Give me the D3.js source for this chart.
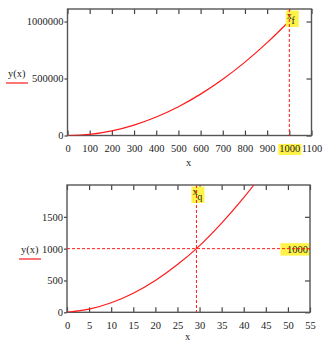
<!DOCTYPE html>
<html>
<head>
<meta charset="utf-8">
<script src="https://cdn.jsdelivr.net/npm/d3@7"></script>
<style>
  body { margin: 0; background: #fff; }
  svg text { font-family: "Liberation Serif", "Times New Roman", serif; font-size: 10.5px; fill: #222; }
</style>
</head>
<body>
<div id="chart"></div>
<script>
// top plot: y(x) over 0..1000
var topX = [0, 100, 200, 300, 400, 500, 600, 700, 800, 900, 1000];
var topY = [0, 10500, 41000, 91500, 162000, 252500, 363000, 493500, 644000, 814500, 1005000];
var topXTicks = [0, 100, 200, 300, 400, 500, 600, 700, 800, 900, 1000, 1100];
var topYTicks = [0, 500000, 1000000];
var xf = 1000;

// bottom plot: zoom near the crossing with 1000
var botX = [0, 5, 10, 15, 20, 25, 29.3, 35, 40, 42.3];
var botY = [0, 50, 150, 300, 500, 750, 1000, 1400, 1800, 2000];
var botXTicks = [0, 5, 10, 15, 20, 25, 30, 35, 40, 45, 50, 55];
var botYTicks = [0, 500, 1000, 1500];
var xq = 29.3, yq = 1000;

var svg = d3.select('#chart').append('svg')
	.attr('width', 332)
	.attr('height', 343);

var yellow = '#fff34a';

function panel(opt){
	var g = svg.append('g');
	var x = d3.scaleLinear().domain(opt.xDomain).range([opt.left, opt.right]);
	var y = d3.scaleLinear().domain(opt.yDomain).range([opt.bottom, opt.top]);

	var clipId = 'clip' + opt.id;
	svg.append('clipPath').attr('id', clipId)
		.append('rect')
		.attr('x', opt.left).attr('y', opt.top)
		.attr('width', opt.right - opt.left).attr('height', opt.bottom - opt.top);

	// axes: labels only on bottom and left, inner ticks all round
	var gb = g.append('g').attr('transform', 'translate(0,' + opt.bottom + ')')
		.call(d3.axisBottom(x).tickValues(opt.xTicks).tickSize(-5).tickPadding(9).tickFormat(d3.format('d')));
	g.append('g').attr('transform', 'translate(0,' + opt.top + ')')
		.call(d3.axisTop(x).tickValues(opt.xTicks).tickSize(-5).tickFormat(''));
	g.append('g').attr('transform', 'translate(' + opt.left + ',0)')
		.call(d3.axisLeft(y).tickValues(opt.yTicks).tickSize(3).tickPadding(1).tickFormat(d3.format('d')));
	g.append('g').attr('transform', 'translate(' + opt.right + ',0)')
		.call(d3.axisRight(y).tickValues(opt.yTicks).tickSize(-5).tickFormat(''));

	g.selectAll('.domain').remove();
	g.selectAll('.tick line').attr('stroke', '#444').attr('stroke-width', 1.2);
	g.selectAll('.tick text').attr('fill', '#222').style('font-size', '10.5px');

	// highlighted tick label
	if(opt.markTick != null){
		gb.selectAll('.tick').filter(function(d){ return d === opt.markTick; }).each(function(){
			var t = d3.select(this).select('text');
			var bb = t.node().getBBox();
			d3.select(this).insert('rect', 'text')
				.attr('x', bb.x - 1).attr('y', bb.y + 1)
				.attr('width', bb.width + 2).attr('height', bb.height)
				.attr('fill', yellow);
		});
	}

	// frame
	g.append('rect')
		.attr('x', opt.left).attr('y', opt.top)
		.attr('width', opt.right - opt.left).attr('height', opt.bottom - opt.top)
		.attr('fill', 'none').attr('stroke', '#555').attr('stroke-width', 1.4);

	// curve
	var line = d3.line().x(function(d){ return x(d[0]); }).y(function(d){ return y(d[1]); })
		.curve(d3.curveMonotoneX);
	g.append('path')
		.datum(d3.zip(opt.xs, opt.ys))
		.attr('clip-path', 'url(#' + clipId + ')')
		.attr('d', line)
		.attr('fill', 'none')
		.attr('stroke', '#ff1a1a')
		.attr('stroke-width', 1.2);

	// vertical marker with its label box
	var mx = x(opt.markX);
	g.append('rect')
		.attr('x', mx - opt.boxOff).attr('y', opt.top + 1.5)
		.attr('width', 13).attr('height', 16.5)
		.attr('fill', yellow);
	var lab = g.append('text').attr('x', mx - opt.boxOff + 1).attr('y', opt.top + 10);
	lab.append('tspan').text('x');
	lab.append('tspan').attr('dx', -0.5).attr('dy', 5).style('font-size', '10px').text(opt.markSub);
	g.append('line')
		.attr('x1', mx).attr('x2', mx)
		.attr('y1', opt.top).attr('y2', opt.bottom)
		.attr('stroke', '#ff1a1a').attr('stroke-width', 1)
		.attr('stroke-dasharray', '3,2');

	// horizontal marker
	if(opt.markY != null){
		var my = y(opt.markY);
		g.append('rect')
			.attr('x', opt.right - 29.5).attr('y', my - 5.5)
			.attr('width', 28.5).attr('height', 12.5)
			.attr('fill', yellow);
		g.append('text')
			.attr('x', opt.right - 2).attr('y', my + 4)
			.attr('text-anchor', 'end')
			.text(d3.format('d')(opt.markY));
		g.append('line')
			.attr('x1', opt.left).attr('x2', opt.right)
			.attr('y1', my).attr('y2', my)
			.attr('stroke', '#ff1a1a').attr('stroke-width', 1)
			.attr('stroke-dasharray', '3,2');
	}

	// axis titles
	g.append('text')
		.attr('x', (opt.left + opt.right) / 2 - 1).attr('y', opt.bottom + opt.xLabDy)
		.attr('text-anchor', 'middle')
		.text('x');
	g.append('text')
		.attr('x', opt.yLabX).attr('y', opt.yLabY)
		.text('y(x)');
	g.append('line')
		.attr('x1', opt.yLabX - 2).attr('x2', opt.yLabX + 20)
		.attr('y1', opt.yLabY + 6).attr('y2', opt.yLabY + 6)
		.attr('stroke', '#ff1a1a').attr('stroke-width', 1.2);
}

panel({
	id: 'a',
	left: 67.5, right: 311.5, top: 9, bottom: 135.5,
	xDomain: [0, 1100], yDomain: [0, 1110000],
	xTicks: topXTicks, yTicks: topYTicks,
	xs: topX, ys: topY,
	markX: xf, markSub: 'f', boxOff: 3.5, markTick: 1000,
	yLabX: 8, yLabY: 77, xLabDy: 30
});

panel({
	id: 'b',
	left: 67, right: 310, top: 185, bottom: 312.3,
	xDomain: [0, 55], yDomain: [0, 2000],
	xTicks: botXTicks, yTicks: botYTicks,
	xs: botX, ys: botY,
	markX: xq, markSub: 'q', boxOff: 5, markY: yq,
	yLabX: 21, yLabY: 253, xLabDy: 27.5
});
</script>
</body>
</html>
